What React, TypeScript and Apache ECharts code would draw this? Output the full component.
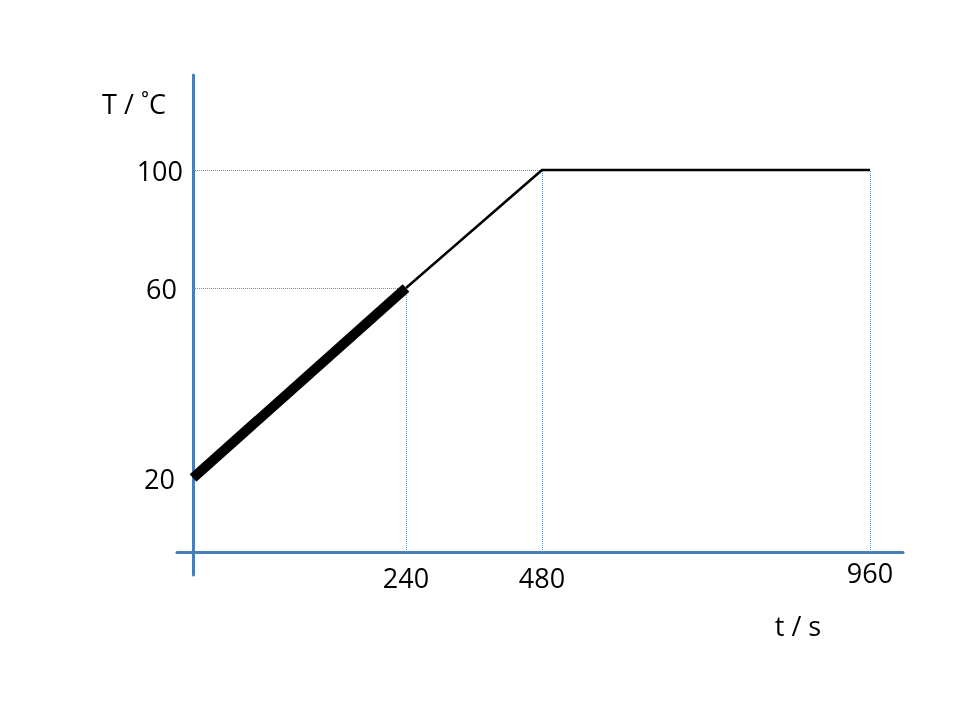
import React, { useEffect, useRef } from 'react';
import * as echarts from 'echarts';

// ---- data ----
const times = [0, 240, 480, 960];
const temps = [20, 60, 100, 100];
const heatedUntil = 240; // end of the highlighted (thick) segment
const timeTicks = [240, 480, 960];
const tempTicks = [20, 60, 100];
const xName = 't / s';
const yName = 'T / ˚C';

// ---- schematic (non-linear) scales: value -> axis units ----
const timeScale = { domain: [0, 240, 480, 960], range: [0, 213, 349, 677] };
const tempScale = { domain: [20, 60, 100], range: [74, 264, 382] };

function warp(s: { domain: number[]; range: number[] }, v: number): number {
  const d = s.domain, r = s.range;
  let i = 0;
  if (v <= d[0]) i = 0;
  else if (v >= d[d.length - 1]) i = d.length - 2;
  else { while (v > d[i + 1]) i++; }
  const t = (v - d[i]) / (d[i + 1] - d[i]);
  return r[i] + t * (r[i + 1] - r[i]);
}

function tickFor(ticks: number[], s: { domain: number[]; range: number[] }, val: number): number | null {
  for (const t of ticks) if (Math.abs(warp(s, t) - val) < 0.5) return t;
  return null;
}

const FONT = '"Open Sans", sans-serif';
const AXIS_COLOR = '#4A7EBB';
const GUIDE_COLOR = '#5E8FD2';

export default function App() {
  const ref = useRef<HTMLDivElement>(null);
  useEffect(() => {
    if (!ref.current) return;
    const chart = echarts.init(ref.current, undefined, { renderer: 'svg' });
    const pts = times.map((t, i) => [warp(timeScale, t), warp(tempScale, temps[i])]);
    const thick = pts.filter((_, i) => times[i] <= heatedUntil);
    const thin = pts.filter((_, i) => times[i] >= heatedUntil);

    const guides: any[] = [];
    const seenT = new Set<number>();
    times.forEach((t, i) => {
      if (t === 0) return;
      const x = pts[i][0], y = pts[i][1];
      guides.push([{ coord: [x, 0] }, { coord: [x, y] }]);
      if (!seenT.has(temps[i])) {
        seenT.add(temps[i]);
        guides.push([{ coord: [0, y] }, { coord: [x, y] }]);
      }
    });

    const lastTime = timeTicks[timeTicks.length - 1];
    const lastTemp = tempTicks[tempTicks.length - 1];

    chart.setOption({
      animation: false,
      grid: { left: 177, right: 57, top: 75, bottom: 145, containLabel: false },
      xAxis: {
        type: 'value',
        min: -16,
        max: 710,
        splitLine: { show: false },
        axisTick: { show: false },
        axisLine: { show: true, onZero: true, lineStyle: { color: AXIS_COLOR, width: 3 } },
        axisLabel: {
          customValues: timeTicks.map((t) => warp(timeScale, t)),
          formatter: (v: number) => {
            const t = tickFor(timeTicks, timeScale, v);
            if (t === null) return '';
            return t === lastTime ? `{h|${t}}` : `{n|${t}}`;
          },
          rich: {
            n: { fontFamily: FONT, fontSize: 27, color: '#000', lineHeight: 40 },
            h: { fontFamily: FONT, fontSize: 27, color: '#000', lineHeight: 31 },
          },
          color: '#000',
          fontFamily: FONT,
          fontSize: 27,
          margin: -18,
        },
      },
      yAxis: {
        type: 'value',
        min: -23,
        max: 477,
        splitLine: { show: false },
        axisTick: { show: false },
        axisLine: { show: true, onZero: true, lineStyle: { color: AXIS_COLOR, width: 3 } },
        axisLabel: {
          customValues: tempTicks.map((t) => warp(tempScale, t)),
          formatter: (v: number) => {
            const t = tickFor(tempTicks, tempScale, v);
            if (t === null) return '';
            return t === lastTemp ? `{a|${t}}` : t === tempTicks[0] ? `{c|${t}}` : `{b|${t}}`;
          },
          rich: {
            a: { fontFamily: FONT, fontSize: 27, color: '#000', padding: [0, 0, 0, 0] },
            b: { fontFamily: FONT, fontSize: 27, color: '#000', padding: [0, 6, 0, 0] },
            c: { fontFamily: FONT, fontSize: 27, color: '#000', padding: [0, 8, 0, 0] },
          },
          color: '#000',
          fontFamily: FONT,
          fontSize: 27,
          margin: -6,
        },
      },
      graphic: [
        { type: 'text', x: 134, y: 103, style: { text: yName, fill: '#000', font: `27px ${FONT}`, align: 'center', verticalAlign: 'middle' } },
        { type: 'text', x: 798, y: 625, style: { text: xName, fill: '#000', font: `27px ${FONT}`, align: 'center', verticalAlign: 'middle' } },
      ],
      series: [
        {
          type: 'line',
          data: thin,
          symbol: 'none',
          lineStyle: { color: '#000', width: 2.5 },
          z: 3,
          markLine: {
            silent: true,
            symbol: ['none', 'none'],
            label: { show: false },
            lineStyle: { color: GUIDE_COLOR, width: 1, type: [1, 1] },
            data: guides,
            z: 1,
          },
        },
        {
          type: 'line',
          data: thick,
          symbol: 'none',
          lineStyle: { color: '#000', width: 10, cap: 'butt' },
          z: 4,
        },
      ],
    });
    return () => chart.dispose();
  }, []);
  return <div ref={ref} style={{ position: 'fixed', left: 0, top: 0, width: 960, height: 720 }} />;
}
